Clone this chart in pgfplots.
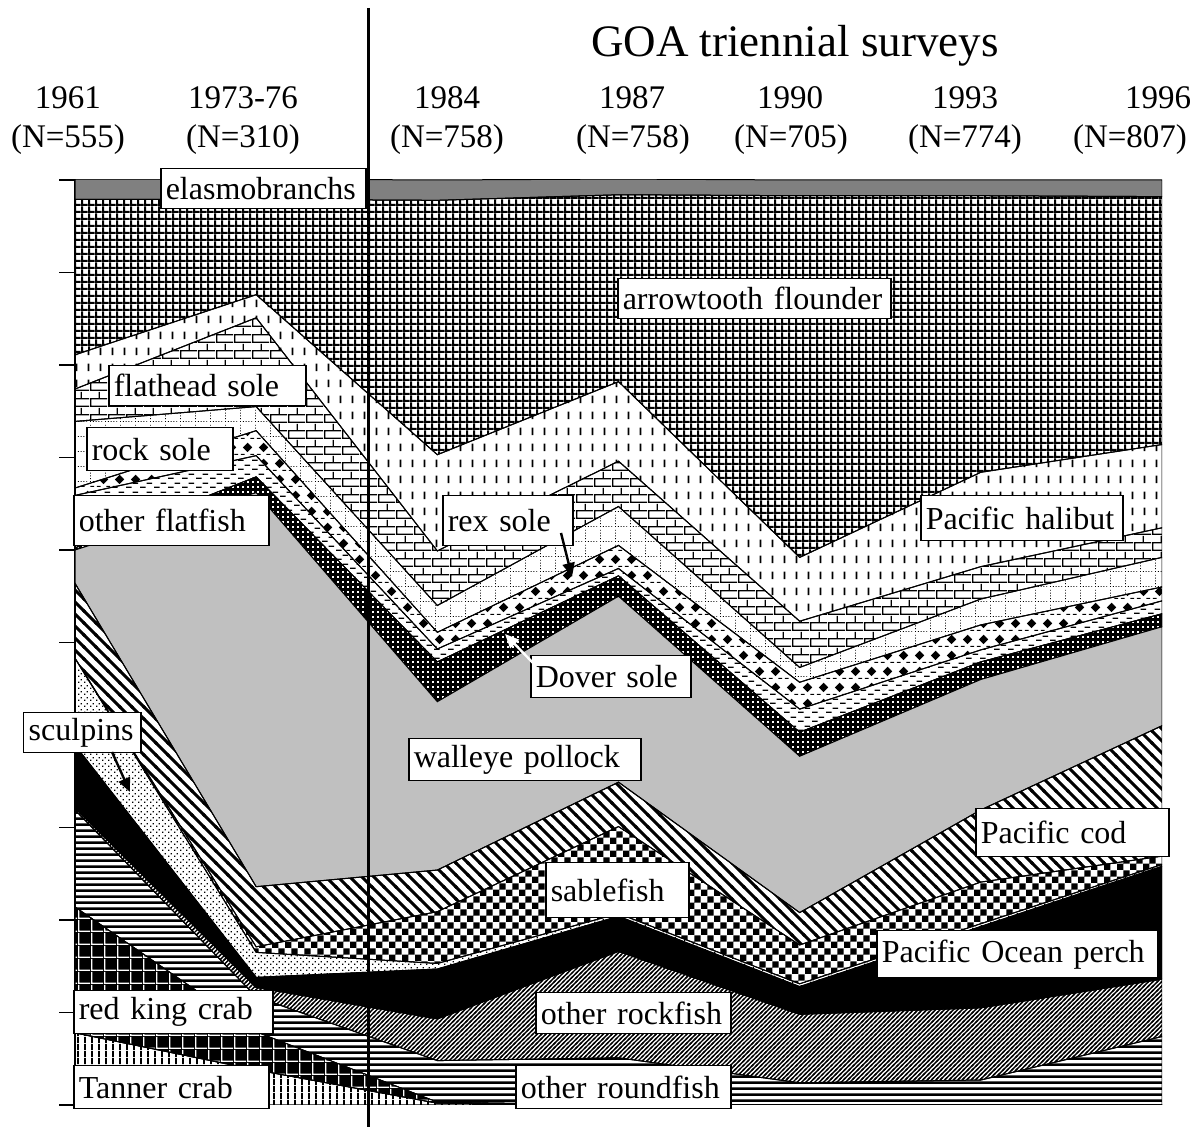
\documentclass[border=0pt]{standalone}
\usepackage{fontspec}
\setmainfont{Liberation Serif}
\usepackage{pgfplots}
\usepackage{pgfplotstable}
\pgfplotsset{compat=1.18}
\usetikzlibrary{patterns,arrows.meta}

\definecolor{pollgray}{RGB}{192,192,192}
\definecolor{elasgray}{RGB}{128,128,128}

% ---- patterns (1 px of the reference = 0.5pt) ----
\pgfdeclarepatternformonly{pVert}{\pgfpointorigin}{\pgfqpoint{3.5pt}{3.5pt}}{\pgfqpoint{3.5pt}{3.5pt}}{%
  \pgfpathrectangle{\pgfpointorigin}{\pgfqpoint{1.1pt}{3.5pt}}\pgfusepath{fill}}
\pgfdeclarepatternformonly{pHoriz}{\pgfpointorigin}{\pgfqpoint{3.2pt}{3.2pt}}{\pgfqpoint{3.2pt}{3.2pt}}{%
  \pgfpathrectangle{\pgfpointorigin}{\pgfqpoint{3.2pt}{1.4pt}}\pgfusepath{fill}}
\pgfdeclarepatternformonly{pGridW}{\pgfpointorigin}{\pgfqpoint{6.5pt}{6.5pt}}{\pgfqpoint{6.5pt}{6.5pt}}{%
  \pgfpathrectangle{\pgfpointorigin}{\pgfqpoint{6.5pt}{0.8pt}}%
  \pgfpathrectangle{\pgfpointorigin}{\pgfqpoint{0.8pt}{6.5pt}}\pgfusepath{fill}}
\pgfdeclarepatternformonly{pFineNE}{\pgfqpoint{-1pt}{-1pt}}{\pgfqpoint{3.2pt}{3.2pt}}{\pgfqpoint{2.2pt}{2.2pt}}{%
  \pgfsetlinewidth{0.7pt}\pgfpathmoveto{\pgfqpoint{-0.5pt}{-0.5pt}}\pgfpathlineto{\pgfqpoint{2.7pt}{2.7pt}}\pgfusepath{stroke}}
\pgfdeclarepatternformonly{pNW}{\pgfqpoint{-1pt}{-1pt}}{\pgfqpoint{7pt}{7pt}}{\pgfqpoint{6pt}{6pt}}{%
  \pgfsetlinewidth{1.5pt}\pgfpathmoveto{\pgfqpoint{-0.5pt}{6.5pt}}\pgfpathlineto{\pgfqpoint{6.5pt}{-0.5pt}}\pgfusepath{stroke}}
\pgfdeclarepatternformonly{pDots}{\pgfpointorigin}{\pgfqpoint{3pt}{3pt}}{\pgfqpoint{3pt}{3pt}}{%
  \pgfpathrectangle{\pgfpointorigin}{\pgfqpoint{0.8pt}{0.8pt}}%
  \pgfpathrectangle{\pgfqpoint{1.5pt}{1.5pt}}{\pgfqpoint{0.8pt}{0.8pt}}\pgfusepath{fill}}
\pgfdeclarepatternformonly{pDotsW}{\pgfpointorigin}{\pgfqpoint{2.4pt}{2.4pt}}{\pgfqpoint{2.4pt}{2.4pt}}{%
  \pgfpathrectangle{\pgfpointorigin}{\pgfqpoint{1pt}{1pt}}\pgfusepath{fill}}
\pgfdeclarepatternformonly{pChecker}{\pgfpointorigin}{\pgfqpoint{6.4pt}{6.4pt}}{\pgfqpoint{6.4pt}{6.4pt}}{%
  \pgfpathrectangle{\pgfpointorigin}{\pgfqpoint{3.2pt}{3.2pt}}%
  \pgfpathrectangle{\pgfqpoint{3.2pt}{3.2pt}}{\pgfqpoint{3.2pt}{3.2pt}}\pgfusepath{fill}}
\pgfdeclarepatternformonly{pDash}{\pgfpointorigin}{\pgfqpoint{7pt}{4.5pt}}{\pgfqpoint{7pt}{4.5pt}}{%
  \pgfpathrectangle{\pgfpointorigin}{\pgfqpoint{3pt}{0.7pt}}%
  \pgfpathrectangle{\pgfqpoint{3.5pt}{2.25pt}}{\pgfqpoint{3pt}{0.7pt}}\pgfusepath{fill}}
\pgfdeclarepatternformonly{pDiamond}{\pgfpointorigin}{\pgfqpoint{8pt}{8pt}}{\pgfqpoint{8pt}{8pt}}{%
  \pgfpathmoveto{\pgfqpoint{1.5pt}{4pt}}\pgfpathlineto{\pgfqpoint{4pt}{6.5pt}}%
  \pgfpathlineto{\pgfqpoint{6.5pt}{4pt}}\pgfpathlineto{\pgfqpoint{4pt}{1.5pt}}\pgfpathclose
  \pgfpathrectangle{\pgfqpoint{0.5pt}{0pt}}{\pgfqpoint{2pt}{0.6pt}}%
  \pgfpathrectangle{\pgfqpoint{5.5pt}{0pt}}{\pgfqpoint{2pt}{0.6pt}}\pgfusepath{fill}}
\pgfdeclarepatternformonly{pDotGrid}{\pgfpointorigin}{\pgfqpoint{7.5pt}{7.5pt}}{\pgfqpoint{7.5pt}{7.5pt}}{%
  \foreach \k in {0,1.5,3,4.5,6}{\pgfpathrectangle{\pgfqpoint{\k pt}{0pt}}{\pgfqpoint{0.5pt}{0.5pt}}}%
  \foreach \k in {1.5,3,4.5,6}{\pgfpathrectangle{\pgfqpoint{0pt}{\k pt}}{\pgfqpoint{0.5pt}{0.5pt}}}%
  \pgfusepath{fill}}
\pgfdeclarepatternformonly{pBrick}{\pgfpointorigin}{\pgfqpoint{9pt}{8pt}}{\pgfqpoint{9pt}{8pt}}{%
  \pgfpathrectangle{\pgfpointorigin}{\pgfqpoint{9pt}{0.7pt}}%
  \pgfpathrectangle{\pgfqpoint{0pt}{4pt}}{\pgfqpoint{9pt}{0.7pt}}%
  \pgfpathrectangle{\pgfpointorigin}{\pgfqpoint{0.7pt}{4pt}}%
  \pgfpathrectangle{\pgfqpoint{4.5pt}{4pt}}{\pgfqpoint{0.7pt}{4pt}}\pgfusepath{fill}}
\pgfdeclarepatternformonly{pVDash}{\pgfpointorigin}{\pgfqpoint{6pt}{8pt}}{\pgfqpoint{6pt}{8pt}}{%
  \pgfpathrectangle{\pgfqpoint{2pt}{2pt}}{\pgfqpoint{0.9pt}{4pt}}\pgfusepath{fill}}
\pgfdeclarepatternformonly{pDense}{\pgfpointorigin}{\pgfqpoint{3.4pt}{3.4pt}}{\pgfqpoint{3.4pt}{3.4pt}}{%
  \pgfpathrectangle{\pgfpointorigin}{\pgfqpoint{3.4pt}{1.05pt}}%
  \pgfpathrectangle{\pgfpointorigin}{\pgfqpoint{1.05pt}{3.4pt}}\pgfusepath{fill}}

% ---- data: percentage composition, stacked from bottom ----
\pgfplotstableread{
x tanner rkc roundfish rockfish pop sculpins sablefish cod pollock dover otherflat rex rock flathead halibut arrowtooth elasmo
0 7.8 13.6 10.5 0.2 6.8 9.4 0.0 8.1 3.6 0.2 5.7 0.8 7.2 3.5 3.7 16.8 2.2
1 3.8 4.1 3.8 1.0 1.1 2.7 0.6 6.5 42.6 1.7 2.3 2.7 2.6 9.6 2.5 10.3 2.2
2 0.2 0.1 4.5 4.5 5.4 0.6 5.6 4.5 18.2 4.3 1.4 1.8 2.9 5.9 10.4 27.5 2.2
3 0.0 0.0 5.1 11.5 3.8 0.3 9.4 4.8 20.1 2.2 0.8 2.5 4.2 4.9 8.6 20.2 1.7
4 0.0 0.0 2.4 7.4 3.0 0.3 4.2 3.5 16.9 2.6 2.5 2.9 1.6 5.0 6.9 39.1 1.7
5 0.0 0.0 2.7 7.8 8.8 0.3 4.5 7.8 14.1 1.9 1.3 2.7 2.8 3.5 10.2 29.9 1.7
6 0.0 0.0 7.4 6.2 12.2 0.2 0.9 14.1 10.7 1.4 1.4 1.5 3.2 3.2 9.0 26.8 1.8
}\data

\newcommand{\lfont}{\fontsize{16}{18}\selectfont}
\newcommand{\lab}[5]{%
  \pgfmathsetlengthmacro{\labw}{(#3-#1)*0.5pt-5pt}%
  \pgfmathsetlengthmacro{\labh}{(#4-#2)*0.5pt}%
  \node[draw=black, line width=0.75pt, fill=white, anchor=north west,
        inner xsep=2.5pt, inner ysep=0pt, text width=\labw,
        minimum height=\labh, align=left, font=\lfont] at (#1,#2) {#5};}

\begin{document}
\begin{tikzpicture}
\useasboundingbox (-37.5pt,-11pt) rectangle (561pt,552.5pt);
\begin{axis}[
  at={(0pt,0pt)}, anchor=south west,
  width=543.5pt, height=462.5pt, scale only axis,
  xmin=0, xmax=6, ymin=0, ymax=100,
  stack plots=y,
  hide x axis,
  axis y line*=left,
  y axis line style={line width=0.8pt},
  ytick={0,10,...,100}, yticklabels={},
  tick align=outside, major tick length=8pt,
  every tick/.style={black, line width=0.8pt},
]
\pgfplotsset{every axis plot/.append style={draw=black, line width=0.5pt}}
\addplot[pattern=pVert] table[x=x,y=tanner]{\data} \closedcycle;
\addplot[preaction={fill=black}, pattern=pGridW, pattern color=white] table[x=x,y=rkc]{\data} \closedcycle;
\addplot[pattern=pHoriz] table[x=x,y=roundfish]{\data} \closedcycle;
\addplot[pattern=pFineNE] table[x=x,y=rockfish]{\data} \closedcycle;
\addplot[fill=black] table[x=x,y=pop]{\data} \closedcycle;
\addplot[pattern=pDots] table[x=x,y=sculpins]{\data} \closedcycle;
\addplot[pattern=pChecker] table[x=x,y=sablefish]{\data} \closedcycle;
\addplot[pattern=pNW] table[x=x,y=cod]{\data} \closedcycle;
\addplot[fill=pollgray] table[x=x,y=pollock]{\data} \closedcycle;
\addplot[preaction={fill=black}, pattern=pDotsW, pattern color=white] table[x=x,y=dover]{\data} \closedcycle;
\addplot[pattern=pDash] table[x=x,y=otherflat]{\data} \closedcycle;
\addplot[pattern=pDiamond] table[x=x,y=rex]{\data} \closedcycle;
\addplot[pattern=pDotGrid] table[x=x,y=rock]{\data} \closedcycle;
\addplot[pattern=pBrick] table[x=x,y=flathead]{\data} \closedcycle;
\addplot[pattern=pVDash] table[x=x,y=halibut]{\data} \closedcycle;
\addplot[pattern=pDense] table[x=x,y=arrowtooth]{\data} \closedcycle;
\addplot[fill=elasgray] table[x=x,y=elasmo]{\data} \closedcycle;
\end{axis}

\begin{scope}[x=0.5pt, y=-0.5pt, shift={(-37.5pt,552.5pt)}]
  % divider between early surveys and triennial surveys
  \draw[line width=1.5pt] (368,8) -- (368,1127);
  % header
  \node[font=\fontsize{22.5}{26}\selectfont] at (795,46) {GOA triennial surveys};
  \foreach \xx/\yr in {68/1961, 243/1973-76, 447/1984, 632/1987, 790/1990, 965/1993, 1158/1996}
    \node[font=\fontsize{16.5}{19}\selectfont] at (\xx,98) {\yr};
  \foreach \xx/\nn in {68/555, 243/310, 447/758, 633/758, 791/705, 965/774, 1130/807}
    \node[font=\fontsize{16.5}{19}\selectfont] at (\xx,140) {(N=\nn)};
  % labels
  \lab{160}{168}{365}{208}{elasmobranchs}
  \lab{617}{278}{890}{318}{arrowtooth flounder}
  \lab{108}{365}{305}{405}{flathead sole}
  \lab{86}{427}{232}{470}{rock sole}
  \lab{73}{495}{268}{545}{other flatfish}
  \lab{442}{495}{572}{545}{rex sole}
  \lab{920}{495}{1122}{540}{Pacific halibut}
  \lab{530}{655}{690}{697}{Dover sole}
  \lab{23}{712}{140}{752}{sculpins}
  \lab{408}{738}{640}{780}{walleye pollock}
  \lab{975}{808}{1168}{856}{Pacific cod}
  \lab{545}{862}{688}{917}{sablefish}
  \lab{876}{930}{1157}{977}{Pacific Ocean perch}
  \lab{73}{990}{272}{1033}{red king crab}
  \lab{535}{992}{730}{1033}{other rockfish}
  \lab{73}{1065}{268}{1108}{Tanner crab}
  \lab{515}{1065}{730}{1108}{other roundfish}
  % arrows
  \draw[line width=1.2pt, -{Triangle[length=7pt,width=6pt]}] (561,533) -- (572,577);
  \draw[white, line width=1.2pt, -{Triangle[length=7pt,width=6pt]}] (533,663) -- (505,634);
  \draw[line width=1.2pt, -{Triangle[length=7pt,width=6pt]}] (112,752) -- (130,792);
\end{scope}
\end{tikzpicture}
\end{document}
